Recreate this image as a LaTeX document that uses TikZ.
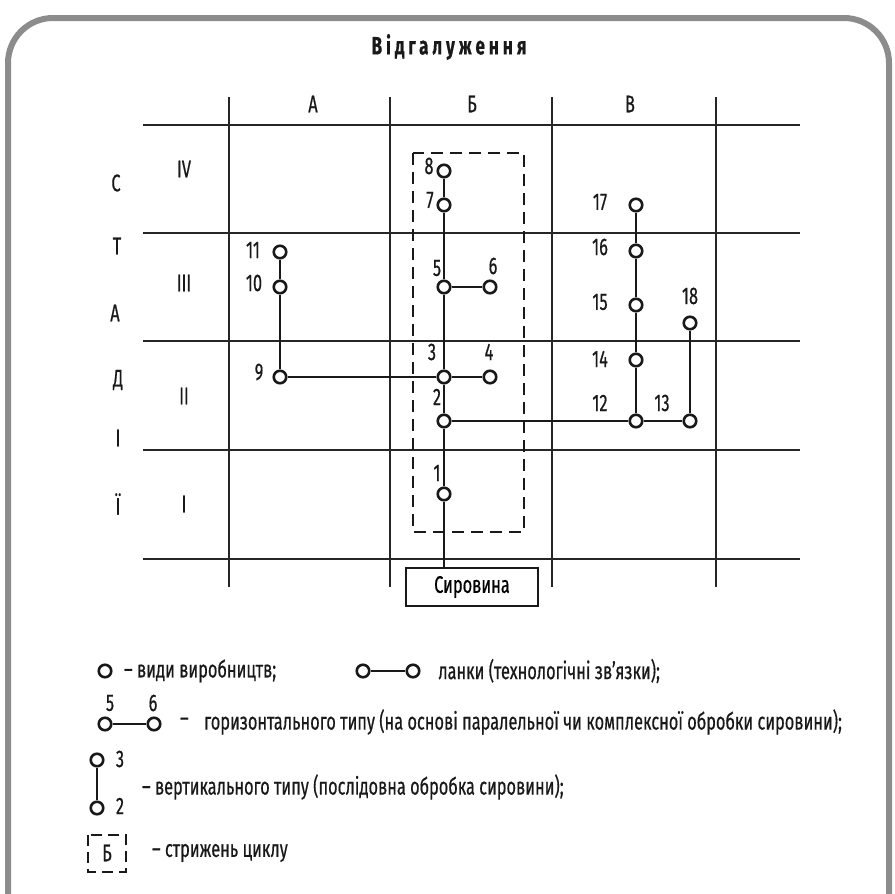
\documentclass[tikz,border=0pt]{standalone}
\usepackage{fontspec}
\setmainfont{Fira Sans}[FakeStretch=0.68, FakeBold=0.5]
\begin{document}
\begin{tikzpicture}[x=1pt,y=-1pt,
  gridline/.style={line width=1.7pt, draw=black!85},
  link/.style={line width=2.6pt, draw=black!90},
  vn/.style={circle, draw=black!90, line width=2.6pt, fill=white, inner sep=0pt, minimum size=12.5pt},
  lbl/.style={font=\fontsize{24}{28}\selectfont, inner sep=0pt, text=black!90},
  core/.style={dash pattern=on 12pt off 7pt, line width=1.8pt, draw=black!90},
  rawbox/.style={draw=black!90, line width=2.6pt, minimum width=132pt, minimum height=38pt, inner sep=0pt, font=\fontsize{24}{28}\selectfont}
]
\useasboundingbox (0,0) rectangle (895,894);
\clip (0,0) rectangle (895,894);
\fill[white] (0,0) rectangle (895,894);
% frame
\draw[line width=6pt, draw=black!45, rounded corners=45pt] (8,980) -- (8,18) -- (889,18) -- (889,980);

% title
\node[lbl, font=\fontsize{25}{30}\selectfont\bfseries\addfontfeatures{LetterSpace=16}] (title) at (449,47) {Відгалуження};

% grid
\foreach \x in {229,390,552,716} { \draw[gridline] (\x,97) -- (\x,587); }
\foreach \y in {125,233,341,450,559} { \draw[gridline] (143,\y) -- (800,\y); }

% column letters
\node[lbl] (cA) at (313,104) {А};
\node[lbl] (cB) at (472,104) {Б};
\node[lbl] (cV) at (630,104) {В};
% row numerals
\node[lbl] (r4) at (184,169) {IV};
\node[lbl] (r3) at (184,283) {III};
\node[lbl] (r2) at (184,396) {II};
\node[lbl] (r1) at (184,504) {I};
% vertical word
\node[lbl] (s1) at (116,183) {С};
\node[lbl] (s2) at (117,246) {Т};
\node[lbl] (s3) at (115,313) {А};
\node[lbl] (s4) at (118,380) {Д};
\node[lbl] (s5) at (118,438) {І};
\node[lbl] (s6) at (118,504) {Ї};

% core dashed rectangle
\draw[core] (413,153) rectangle (524,532);

% production nodes
\node[vn] (n1) at (444,494) {};
\node[vn] (n2) at (444,421) {};
\node[vn] (n3) at (444,377) {};
\node[vn] (n4) at (490,377) {};
\node[vn] (n5) at (444,287) {};
\node[vn] (n6) at (490,287) {};
\node[vn] (n7) at (444,205) {};
\node[vn] (n8) at (444,171) {};
\node[vn] (n9) at (280,377) {};
\node[vn] (n10) at (280,287) {};
\node[vn] (n11) at (280,252) {};
\node[vn] (n12) at (636,421) {};
\node[vn] (n13) at (690,421) {};
\node[vn] (n14) at (636,360) {};
\node[vn] (n15) at (636,305) {};
\node[vn] (n16) at (636,251) {};
\node[vn] (n17) at (636,205) {};
\node[vn] (n18) at (690,323) {};
\node[rawbox] (raw) at (472,587) {Сировина};

% links
\draw[link] (n1) -- (n1 |- raw.north);
\draw[link] (n1) -- (n2);
\draw[link] (n2) -- (n3);
\draw[link] (n3) -- (n5);
\draw[link] (n5) -- (n7);
\draw[link] (n7) -- (n8);
\draw[link] (n3) -- (n4);
\draw[link] (n5) -- (n6);
\draw[link] (n9) -- (n3);
\draw[link] (n9) -- (n10);
\draw[link] (n10) -- (n11);
\draw[link] (n2) -- (n12);
\draw[link] (n12) -- (n13);
\draw[link] (n13) -- (n18);
\draw[link] (n12) -- (n14);
\draw[link] (n14) -- (n15);
\draw[link] (n15) -- (n16);
\draw[link] (n16) -- (n17);

% node labels
\node[lbl] (l1) at (437,473) {1};
\node[lbl] (l2) at (437,397) {2};
\node[lbl] (l3) at (432,352) {3};
\node[lbl] (l4) at (489,352) {4};
\node[lbl] (l5) at (437,268) {5};
\node[lbl] (l6) at (493,266) {6};
\node[lbl] (l7) at (430,200) {7};
\node[lbl] (l8) at (429,166) {8};
\node[lbl] (l9) at (259,372) {9};
\node[lbl] (l10) at (254,283) {10};
\node[lbl] (l11) at (253,250) {11};
\node[lbl] (l12) at (600,403) {12};
\node[lbl] (l13) at (662,403) {13};
\node[lbl] (l14) at (600,359) {14};
\node[lbl] (l15) at (600,302) {15};
\node[lbl] (l16) at (600,247) {16};
\node[lbl] (l17) at (600,202) {17};
\node[lbl] (l18) at (690,296) {18};

% legend
\node[vn] (g1) at (105,671) {};
\node[lbl, anchor=west] (g1t) at (124,671) {– види виробництв;};
\node[vn] (g2a) at (363,671) {};
\node[vn] (g2b) at (413,671) {};
\draw[link] (g2a) -- (g2b);
\node[lbl, anchor=west] (g2t) at (438,671) {ланки (технологічні зв’язки);};

\node[vn] (g3a) at (105,724) {};
\node[vn] (g3b) at (154,724) {};
\draw[link] (g3a) -- (g3b);
\node[lbl] (g3l5) at (110,703) {5};
\node[lbl] (g3l6) at (153,703) {6};
\node[lbl, anchor=west] (g3d) at (180,722) {–};
\node[lbl, anchor=west] (g3t) at (204,722) {горизонтального типу (на основі паралельної чи комплексної обробки сировини);};

\node[vn] (g4a) at (97,760) {};
\node[vn] (g4b) at (97,808) {};
\draw[link] (g4a) -- (g4b);
\node[lbl] (g4l3) at (120,759) {3};
\node[lbl] (g4l2) at (120,806) {2};
\node[lbl, anchor=west] (g4t) at (142,787) {– вертикального типу (послідовна обробка сировини);};

\draw[core, dash pattern=on 11pt off 6pt] (88,835) rectangle (126,872);
\node[lbl] (g5b) at (107,853) {Б};
\node[lbl, anchor=west] (g5t) at (152,853) {– стрижень циклу};
\end{tikzpicture}
\end{document}
